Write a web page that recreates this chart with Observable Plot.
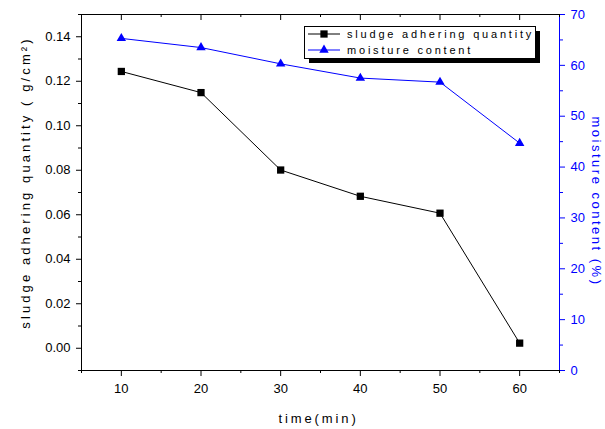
<!DOCTYPE html>
<html><head><meta charset="utf-8">
<script src="https://cdn.jsdelivr.net/npm/d3@7"></script>
<script src="https://cdn.jsdelivr.net/npm/@observablehq/plot@0.6"></script>
<style>
body{margin:0;background:white;}
#wrap{position:relative;width:605px;height:429px;background:white;}
#legend{position:absolute;left:303px;top:25px;}
#legend text{font-family:Arial,"Liberation Sans",sans-serif;font-size:11px;letter-spacing:2.8px;}
</style></head><body><div id="wrap"></div>
<script>
// ---- data ----
const times = [10, 20, 30, 40, 50, 60];
const sludge = [0.1244, 0.1149, 0.0801, 0.0683, 0.0607, 0.0023];
const moisture = [65.3, 63.5, 60.3, 57.5, 56.7, 44.7];
const xTicks = [10, 20, 30, 40, 50, 60];
const xMinorTicks = [5, 15, 25, 35, 45, 55, 65];
const leftTicks = [0, 0.02, 0.04, 0.06, 0.08, 0.10, 0.12, 0.14];
const leftMinorTicks = [-0.01, 0.01, 0.03, 0.05, 0.07, 0.09, 0.11, 0.13, 0.15];
const rightTicks = [0, 10, 20, 30, 40, 50, 60, 70];
const rightMinorTicks = [5, 15, 25, 35, 45, 55, 65];
const seriesNames = ["sludge adhering quantity", "moisture content"];
const xLabel = "time(min)";
const yLabel = "sludge adhering quantity ( g/cm\u00B2)";
const y2Label = "moisture content (%)";

const xDomain = [5, 65];
const yDomain = [-0.01, 0.15];
const mDomain = [0, 70];
const toY = m => yDomain[0] + (m - mDomain[0]) * (yDomain[1] - yDomain[0]) / (mDomain[1] - mDomain[0]);
const fromY = y => mDomain[0] + (y - yDomain[0]) * (mDomain[1] - mDomain[0]) / (yDomain[1] - yDomain[0]);

const sludgeData = times.map((t, i) => ({t, v: sludge[i]}));
const moistData = times.map((t, i) => ({t, v: toY(moisture[i])}));
const BLUE = "#0000ff";
const none = () => "";

const chart = Plot.plot({
  width: 605, height: 429,
  marginLeft: 81, marginRight: 46, marginTop: 14, marginBottom: 59,
  x: {domain: xDomain},
  y: {domain: yDomain},
  style: {fontFamily: "Arial, 'Liberation Sans', sans-serif", fontSize: "13px", background: "white", color: "black"},
  marks: [
    Plot.frame({stroke: "black"}),
    Plot.ruleX([xDomain[1]], {stroke: BLUE}),
    Plot.axisX(xTicks, {tickSize: 6, tickPadding: 7, tickFormat: d => String(d), label: null}),
    Plot.axisX(xMinorTicks, {tickSize: 3, tickFormat: none, label: null}),
    Plot.axisX(xTicks, {anchor: "bottom", frameAnchor: "top", tickSize: 6, tickFormat: none, label: null}),
    Plot.axisX(xMinorTicks, {anchor: "bottom", frameAnchor: "top", tickSize: 3, tickFormat: none, label: null}),
    Plot.axisY(leftTicks, {tickSize: 5, tickPadding: 6, tickFormat: d3.format(".2f"), label: null}),
    Plot.axisY(leftMinorTicks, {tickSize: 3, tickFormat: none, label: null}),
    Plot.axisY(rightTicks.map(toY), {anchor: "right", tickSize: 5, tickPadding: 6,
      tickFormat: d => String(Math.round(fromY(d))), stroke: BLUE, fill: BLUE, label: null}),
    Plot.axisY(rightMinorTicks.map(toY), {anchor: "right", tickSize: 3, tickFormat: none, stroke: BLUE, label: null}),
    Plot.line(sludgeData, {x: "t", y: "v", stroke: "black", strokeWidth: 1}),
    Plot.dot(sludgeData, {x: "t", y: "v", symbol: "square", r: 4.1, fill: "black"}),
    Plot.line(moistData, {x: "t", y: "v", stroke: BLUE, strokeWidth: 1}),
    Plot.dot(moistData, {x: "t", y: "v", symbol: "triangle", r: 3.5, fill: BLUE}),
    Plot.text([yLabel], {frameAnchor: "left", textAnchor: "middle", lineAnchor: "middle", rotate: -90, dx: -56, dy: -10, fill: "black"}),
    Plot.text([y2Label], {frameAnchor: "right", textAnchor: "middle", lineAnchor: "middle", rotate: 90, dx: 37, dy: 9, fill: BLUE}),
    Plot.text([xLabel], {frameAnchor: "bottom", textAnchor: "middle", lineAnchor: "middle", dy: 48, dx: -2, fill: "black"})
  ]
});
const wrap = document.getElementById("wrap");
wrap.appendChild(chart);
const spacing = {[yLabel]: "3.1px", [y2Label]: "2.5px", [xLabel]: "2.9px"};
d3.select(chart).selectAll("text").each(function () {
  const s = spacing[this.textContent];
  if (s) this.style.letterSpacing = s;
});

// ---- legend ----
const lg = d3.select(wrap).append("svg").attr("id", "legend").attr("width", 242).attr("height", 42);
lg.append("rect").attr("x", 6).attr("y", 6).attr("width", 231).attr("height", 32).attr("fill", "black");
lg.append("rect").attr("x", 1.5).attr("y", 1.5).attr("width", 231).attr("height", 32).attr("fill", "white").attr("stroke", "black");
const rows = [
  {name: seriesNames[0], color: "black", sym: d3.symbolSquare, size: 4.1 * 4.1 * Math.PI},
  {name: seriesNames[1], color: BLUE, sym: d3.symbolTriangle, size: 3.5 * 3.5 * Math.PI}
];
rows.forEach((r, i) => {
  const cy = 9 + i * 16;
  lg.append("line").attr("x1", 5).attr("x2", 37).attr("y1", cy).attr("y2", cy).attr("stroke", r.color);
  lg.append("path").attr("transform", `translate(21,${cy})`).attr("d", d3.symbol(r.sym, r.size)()).attr("fill", r.color);
  lg.append("text").attr("x", 44).attr("y", cy + 4).attr("fill", "black").text(r.name);
});
</script></body></html>
